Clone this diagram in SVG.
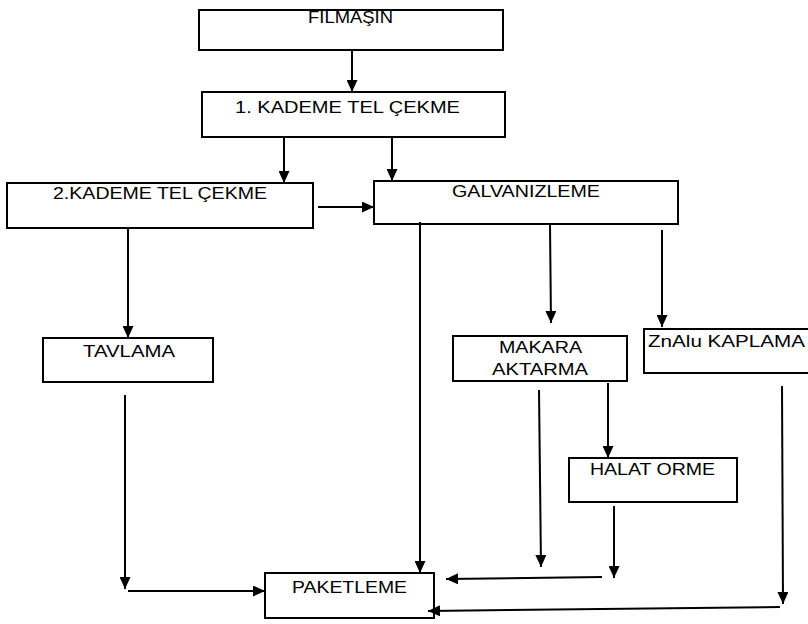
<svg xmlns="http://www.w3.org/2000/svg" width="808" height="624" viewBox="0 0 808 624">
<style>
  .box { fill: #fff; stroke: #000; stroke-width: 2; }
  .lbl { font-family: "Liberation Sans", Arial, sans-serif; font-size: 17px; fill: #000; }
  .con { fill: none; stroke: #000; stroke-width: 2; }
</style>
<defs>
  <marker id="ah" markerUnits="userSpaceOnUse" markerWidth="13" markerHeight="11" refX="12" refY="5.5" orient="auto">
    <path d="M0,0 L12,5.5 L0,11 z" fill="#000"/>
  </marker>
</defs>
<rect width="808" height="624" fill="#fff"/>
<g id="filmasin">
  <rect class="box" x="199" y="10" width="304" height="40"/>
  <text class="lbl" x="308" y="23" textLength="85" lengthAdjust="spacingAndGlyphs">FILMAŞIN</text>
</g>
<g id="kademe1">
  <rect class="box" x="202" y="92" width="303" height="45"/>
  <text class="lbl" x="235" y="113" textLength="225" lengthAdjust="spacingAndGlyphs">1. KADEME TEL ÇEKME</text>
</g>
<g id="kademe2">
  <rect class="box" x="7" y="183" width="306" height="45"/>
  <text class="lbl" x="53" y="199" textLength="214" lengthAdjust="spacingAndGlyphs">2.KADEME TEL ÇEKME</text>
</g>
<g id="galvanizleme">
  <rect class="box" x="374" y="181" width="304" height="43"/>
  <text class="lbl" x="452" y="197" textLength="148" lengthAdjust="spacingAndGlyphs">GALVANIZLEME</text>
</g>
<g id="tavlama">
  <rect class="box" x="43" y="338" width="170" height="44"/>
  <text class="lbl" x="83" y="357" textLength="92" lengthAdjust="spacingAndGlyphs">TAVLAMA</text>
</g>
<g id="makara">
  <rect class="box" x="453" y="336" width="174" height="45"/>
  <text class="lbl" x="499" y="353" textLength="83" lengthAdjust="spacingAndGlyphs">MAKARA</text>
  <text class="lbl" x="492" y="375" textLength="96" lengthAdjust="spacingAndGlyphs">AKTARMA</text>
</g>
<g id="znalu">
  <rect class="box" x="644" y="329" width="170" height="44"/>
  <text class="lbl" x="648" y="347" textLength="157" lengthAdjust="spacingAndGlyphs">ZnAlu KAPLAMA</text>
</g>
<g id="halat">
  <rect class="box" x="569" y="458" width="168" height="44"/>
  <text class="lbl" x="590" y="475" textLength="125" lengthAdjust="spacingAndGlyphs">HALAT ORME</text>
</g>
<g id="paketleme">
  <rect class="box" x="265" y="573" width="169" height="45"/>
  <text class="lbl" x="292" y="593" textLength="115" lengthAdjust="spacingAndGlyphs">PAKETLEME</text>
</g>
<g id="connectors">
  <path class="con" d="M352,50 L352,92" marker-end="url(#ah)"/>
  <path class="con" d="M284,137 L284,183" marker-end="url(#ah)"/>
  <path class="con" d="M392,137 L392,181" marker-end="url(#ah)"/>
  <path class="con" d="M318,207 L374,207" marker-end="url(#ah)"/>
  <path class="con" d="M128,228 L128,338" marker-end="url(#ah)"/>
  <path class="con" d="M125,395 L125,589" marker-end="url(#ah)"/>
  <path class="con" d="M128,591 L265,591" marker-end="url(#ah)"/>
  <path class="con" d="M420,222 L420,573" marker-end="url(#ah)"/>
  <path class="con" d="M550,224 L551,323" marker-end="url(#ah)"/>
  <path class="con" d="M662,230 L662,327" marker-end="url(#ah)"/>
  <path class="con" d="M608,383 L608,458" marker-end="url(#ah)"/>
  <path class="con" d="M539,390 L541,567" marker-end="url(#ah)"/>
  <path class="con" d="M614,506 L614,578" marker-end="url(#ah)"/>
  <path class="con" d="M602,577 L446,579" marker-end="url(#ah)"/>
  <path class="con" d="M782,386 L783,604" marker-end="url(#ah)"/>
  <path class="con" d="M780,607 L428,611" marker-end="url(#ah)"/>
</g>
</svg>
